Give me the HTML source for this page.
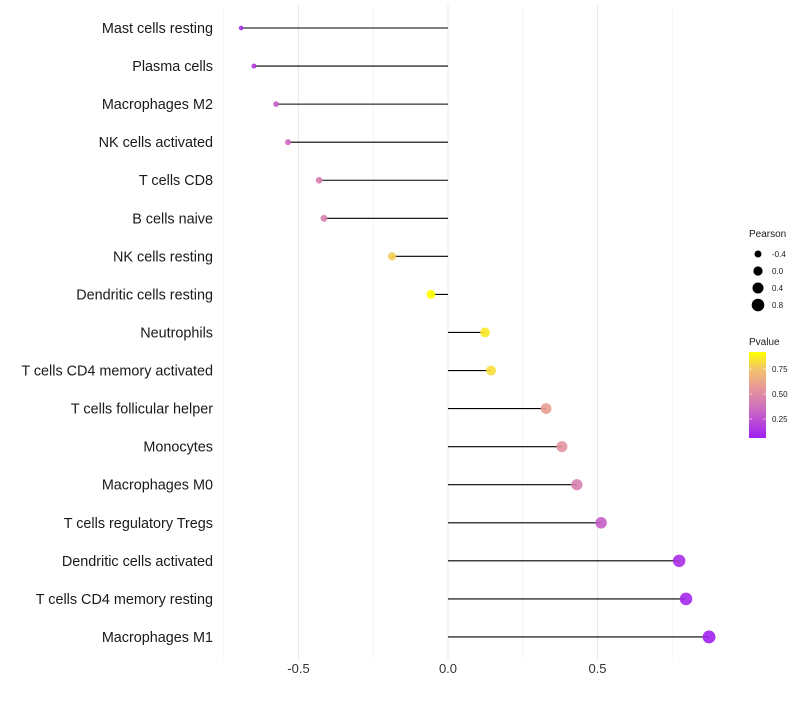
<!DOCTYPE html>
<html><head><meta charset="utf-8"><style>
body{margin:0;background:#fff;font-family:"Liberation Sans",sans-serif}
</style></head><body>
<svg id="c" width="800" height="700" xmlns="http://www.w3.org/2000/svg" font-family="Liberation Sans, sans-serif"></svg>
<script>
const categories=["Mast cells resting","Plasma cells","Macrophages M2","NK cells activated","T cells CD8","B cells naive","NK cells resting","Dendritic cells resting","Neutrophils","T cells CD4 memory activated","T cells follicular helper","Monocytes","Macrophages M0","T cells regulatory  Tregs ","Dendritic cells activated","T cells CD4 memory resting","Macrophages M1"];
const pearson=[-0.692,-0.649,-0.575,-0.535,-0.431,-0.415,-0.187,-0.057,0.124,0.144,0.328,0.381,0.431,0.512,0.773,0.796,0.873];
const pvalue=[0.1,0.15,0.3,0.35,0.45,0.45,0.8,0.95,0.88,0.85,0.6,0.55,0.45,0.3,0.1,0.08,0.05];
const xTicks=[-0.5,0,0.5];
const xTickLabels=["-0.5","0.0","0.5"];
const sizeLegend=[-0.4,0,0.4,0.8];
const colorLegend=[0.25,0.5,0.75];
const NS="http://www.w3.org/2000/svg",svg=document.getElementById('c');
function el(t,a){const e=document.createElementNS(NS,t);for(const k in a)e.setAttribute(k,a[k]);svg.appendChild(e);return e;}
const x=v=>448+v*299;
const y=i=>28+i*38.06;
const r=v=>Math.sqrt(Math.max(2.5,21.4+22.9*v));
const stops=[[0,[160,32,240]],[0.35,[207,111,192]],[0.6,[232,154,149]],[0.8,[242,196,106]],[1,[255,255,0]]];
function col(p){const t=Math.max(0,Math.min(1,(p-0.05)/0.9));for(let i=1;i<stops.length;i++){if(t<=stops[i][0]){const a=stops[i-1],b=stops[i],f=(t-a[0])/(b[0]-a[0]);return 'rgb('+a[1].map((c,j)=>Math.round(c+(b[1][j]-c)*f)).join(',')+')';}}return 'rgb(255,255,0)';}
for(const v of [-0.75,-0.25,0.25,0.75]){const g=el('line',{x1:x(v),x2:x(v),y1:5,y2:660,stroke:'#f2f2f2','stroke-width':0.6});}
xTicks.forEach((v,i)=>{const g=el('line',{x1:x(v),x2:x(v),y1:5,y2:660,stroke:'#ebebeb','stroke-width':1.1});
const t=el('text',{x:x(v),y:673,'text-anchor':'middle','font-size':13,fill:'#333'});t.textContent=xTickLabels[i];});
categories.forEach((c,i)=>{
const t=el('text',{x:213,y:y(i)+5,'text-anchor':'end','font-size':14.4,fill:'#1a1a1a'});t.textContent=c;
const l=el('line',{x1:x(0),x2:x(pearson[i]),y1:y(i),y2:y(i),stroke:'#000','stroke-width':1.1});
const p=el('circle',{cx:x(pearson[i]),cy:y(i),r:r(pearson[i]),fill:col(pvalue[i]),'fill-opacity':0.9});
});
let t=el('text',{x:749,y:237,'font-size':10,fill:'#1a1a1a'});t.textContent='Pearson';
sizeLegend.forEach((v,i)=>{const cy=254+i*17;const c=el('circle',{cx:758,cy:cy,r:r(v),fill:'#000'});
const tt=el('text',{x:772,y:cy+3,'font-size':8,fill:'#1a1a1a'});tt.textContent=v===0?'0.0':String(v);});
t=el('text',{x:749,y:345,'font-size':10,fill:'#1a1a1a'});t.textContent='Pvalue';
const defs=el('defs',{});const lg=document.createElementNS(NS,'linearGradient');lg.setAttribute('id','g');lg.setAttribute('x1','0');lg.setAttribute('y1','1');lg.setAttribute('x2','0');lg.setAttribute('y2','0');defs.appendChild(lg);
stops.forEach(s=>{const st=document.createElementNS(NS,'stop');st.setAttribute('offset',s[0]);st.setAttribute('stop-color','rgb('+s[1].join(',')+')');lg.appendChild(st);});
const bar=el('rect',{x:749,y:352,width:17,height:86,fill:'url(#g)'});
colorLegend.forEach(v=>{const cy=438-(v-0.06)/0.86*86;const tt=el('text',{x:772,y:cy+3,'font-size':8,fill:'#1a1a1a'});tt.textContent=v.toFixed(2);
el('line',{x1:749,x2:752,y1:cy,y2:cy,stroke:'#fff','stroke-width':0.5});el('line',{x1:763,x2:766,y1:cy,y2:cy,stroke:'#fff','stroke-width':0.5});});
</script>
</body></html>
